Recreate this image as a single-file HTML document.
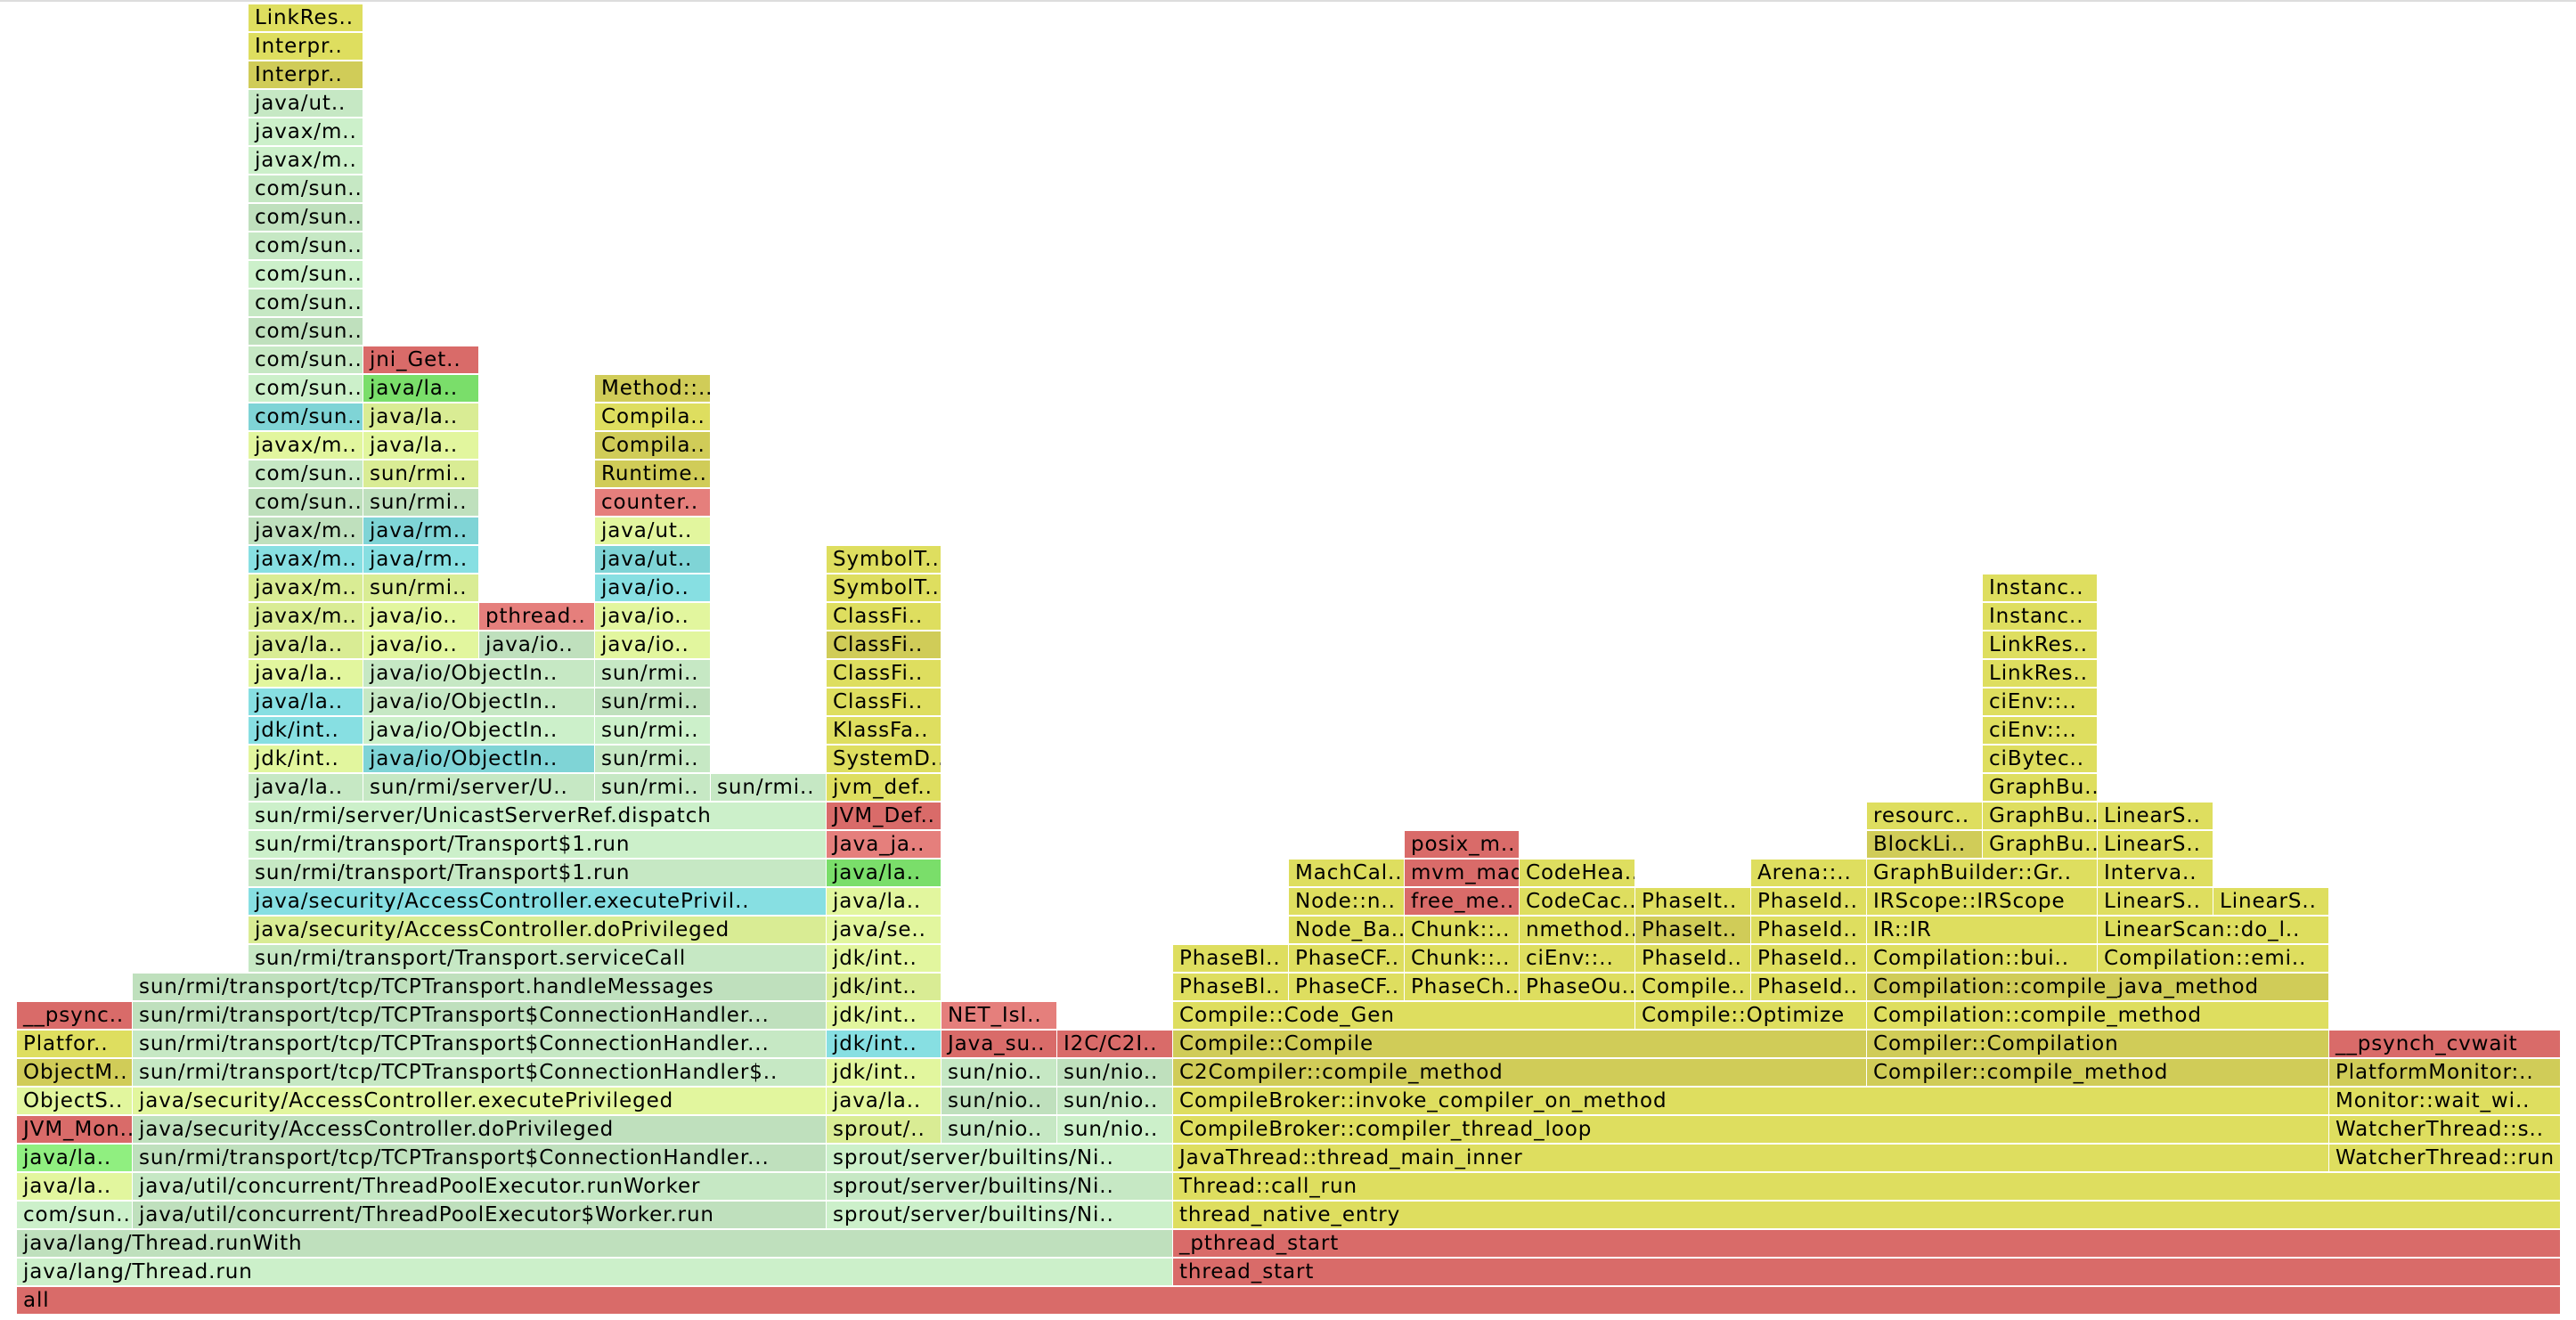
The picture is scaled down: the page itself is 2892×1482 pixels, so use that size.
<!DOCTYPE html>
<html><head><meta charset="utf-8">
<style>
html,body{margin:0;padding:0;background:#fff;}
#fg{position:relative;width:2892px;height:1482px;overflow:hidden;background:#fff;border-top:2px solid #ddd;box-sizing:border-box;font-family:"DejaVu Sans","Liberation Sans",sans-serif;}
.f{position:absolute;height:30px;line-height:31px;font-size:23px;letter-spacing:0.9px;color:#000;padding-left:7px;box-sizing:border-box;white-space:nowrap;overflow:hidden;border-right:1px solid #fff;}
</style></head>
<body>
<div id="fg"></div>
<script>
// frame data: row (0 = bottom), start column, width (columns), label, colour class
const frameRows = [0,1,1,2,2,3,3,3,3,4,4,4,4,5,5,5,5,5,6,6,6,6,6,6,6,7,7,7,7,7,7,7,8,8,8,8,8,8,8,8,9,9,9,9,9,9,9,9,10,10,10,10,10,10,10,11,11,11,11,11,11,11,11,11,12,12,12,12,12,12,12,12,12,12,13,13,13,13,13,13,13,13,13,14,14,14,14,14,14,14,14,14,14,15,15,15,15,15,15,15,15,16,16,16,16,16,16,17,17,17,17,17,18,18,18,18,18,18,19,19,19,19,19,20,20,20,20,20,21,21,21,21,21,22,22,22,22,22,23,23,23,23,23,23,24,24,24,24,24,24,25,25,25,25,25,26,26,26,26,27,27,27,28,28,28,29,29,29,30,30,30,31,31,31,32,32,32,33,33,34,35,36,37,38,39,40,41,42,43,44,45];
const frameStarts = [0,0,10,0,10,0,1,7,10,0,1,7,10,0,1,7,10,20,0,1,7,8,9,10,20,0,1,7,8,9,10,20,0,1,7,8,9,10,16,20,0,1,7,8,9,10,16,20,0,1,7,8,10,14,16,1,7,10,11,12,13,14,15,16,2,7,10,11,12,13,14,15,16,18,2,7,11,12,13,14,15,16,18,2,7,11,12,13,14,15,16,18,19,2,7,11,12,13,15,16,18,2,7,12,16,17,18,2,7,16,17,18,2,3,5,6,7,17,2,3,5,7,17,2,3,5,7,17,2,3,5,7,17,2,3,5,7,17,2,3,4,5,7,17,2,3,4,5,7,17,2,3,5,7,17,2,3,5,7,2,3,5,2,3,5,2,3,5,2,3,5,2,3,5,2,3,5,2,3,2,2,2,2,2,2,2,2,2,2,2,2];
const frameWidths = [22,10,12,10,12,1,6,3,12,1,6,3,12,1,6,3,10,2,1,6,1,1,1,10,2,1,6,1,1,1,10,2,1,6,1,1,1,6,4,2,1,6,1,1,1,6,4,2,1,6,1,1,4,2,4,6,1,1,1,1,1,1,1,4,5,1,1,1,1,1,1,1,2,2,5,1,1,1,1,1,1,2,2,5,1,1,1,1,1,1,2,1,1,5,1,1,1,1,1,2,1,5,1,1,1,1,1,5,1,1,1,1,1,2,1,1,1,1,1,2,1,1,1,1,2,1,1,1,1,2,1,1,1,1,2,1,1,1,1,1,1,1,1,1,1,1,1,1,1,1,1,1,1,1,1,1,1,1,1,1,1,1,1,1,1,1,1,1,1,1,1,1,1,1,1,1,1,1,1,1,1,1,1,1,1,1,1,1,1,1,1,1,1,1,1,1];
const frameLabels = ["all","java/lang/Thread.run","thread_start","java/lang/Thread.runWith","_pthread_start","com/sun..","java/util/concurrent/ThreadPoolExecutor$Worker.run","sprout/server/builtins/Ni..","thread_native_entry","java/la..","java/util/concurrent/ThreadPoolExecutor.runWorker","sprout/server/builtins/Ni..","Thread::call_run","java/la..","sun/rmi/transport/tcp/TCPTransport$ConnectionHandler...","sprout/server/builtins/Ni..","JavaThread::thread_main_inner","WatcherThread::run","JVM_Mon..","java/security/AccessController.doPrivileged","sprout/..","sun/nio..","sun/nio..","CompileBroker::compiler_thread_loop","WatcherThread::s..","ObjectS..","java/security/AccessController.executePrivileged","java/la..","sun/nio..","sun/nio..","CompileBroker::invoke_compiler_on_method","Monitor::wait_wi..","ObjectM..","sun/rmi/transport/tcp/TCPTransport$ConnectionHandler$..","jdk/int..","sun/nio..","sun/nio..","C2Compiler::compile_method","Compiler::compile_method","PlatformMonitor:..","Platfor..","sun/rmi/transport/tcp/TCPTransport$ConnectionHandler...","jdk/int..","Java_su..","I2C/C2I..","Compile::Compile","Compiler::Compilation","__psynch_cvwait","__psync..","sun/rmi/transport/tcp/TCPTransport$ConnectionHandler...","jdk/int..","NET_IsI..","Compile::Code_Gen","Compile::Optimize","Compilation::compile_method","sun/rmi/transport/tcp/TCPTransport.handleMessages","jdk/int..","PhaseBl..","PhaseCF..","PhaseCh..","PhaseOu..","Compile..","PhaseId..","Compilation::compile_java_method","sun/rmi/transport/Transport.serviceCall","jdk/int..","PhaseBl..","PhaseCF..","Chunk::..","ciEnv::..","PhaseId..","PhaseId..","Compilation::bui..","Compilation::emi..","java/security/AccessController.doPrivileged","java/se..","Node_Ba..","Chunk::..","nmethod..","PhaseIt..","PhaseId..","IR::IR","LinearScan::do_l..","java/security/AccessController.executePrivil..","java/la..","Node::n..","free_me..","CodeCac..","PhaseIt..","PhaseId..","IRScope::IRScope","LinearS..","LinearS..","sun/rmi/transport/Transport$1.run","java/la..","MachCal..","mvm_mad..","CodeHea..","Arena::..","GraphBuilder::Gr..","Interva..","sun/rmi/transport/Transport$1.run","Java_ja..","posix_m..","BlockLi..","GraphBu..","LinearS..","sun/rmi/server/UnicastServerRef.dispatch","JVM_Def..","resourc..","GraphBu..","LinearS..","java/la..","sun/rmi/server/U..","sun/rmi..","sun/rmi..","jvm_def..","GraphBu..","jdk/int..","java/io/ObjectIn..","sun/rmi..","SystemD..","ciBytec..","jdk/int..","java/io/ObjectIn..","sun/rmi..","KlassFa..","ciEnv::..","java/la..","java/io/ObjectIn..","sun/rmi..","ClassFi..","ciEnv::..","java/la..","java/io/ObjectIn..","sun/rmi..","ClassFi..","LinkRes..","java/la..","java/io..","java/io..","java/io..","ClassFi..","LinkRes..","javax/m..","java/io..","pthread..","java/io..","ClassFi..","Instanc..","javax/m..","sun/rmi..","java/io..","SymbolT..","Instanc..","javax/m..","java/rm..","java/ut..","SymbolT..","javax/m..","java/rm..","java/ut..","com/sun..","sun/rmi..","counter..","com/sun..","sun/rmi..","Runtime..","javax/m..","java/la..","Compila..","com/sun..","java/la..","Compila..","com/sun..","java/la..","Method::..","com/sun..","jni_Get..","com/sun..","com/sun..","com/sun..","com/sun..","com/sun..","com/sun..","javax/m..","javax/m..","java/ut..","Interpr..","Interpr..","LinkRes.."];
const frameColors = ["r","g3","r","g2","r","g3","g2","g3","y","ly","g1","g1","y","bg","g2","g3","y","y","r","g2","ly2","g1","g3","y","y","ly","ly","ly","g2","g1","y","y","yd","g1","ly","g1","g2","yd","yd","yd","y","g1","cy","r","r","yd","yd","r","r","g2","ly","r2","y","y","y","g2","ly2","y","y","y","y","y","y","yd","g1","ly","y","y","y","y","y","y","y","y","ly2","ly","y","y","y","yd","y","y","y","cy","ly","y","r","y","y","y","y","y","y","g1","bg2","y","r","y","y","y","y","g3","r2","r","yd","y","y","g3","r","y","y","y","g1","g1","g1","g1","y","y","ly","cy2","g1","y","y","cy","g3","g3","y","y","cy","g1","g2","y","y","ly","g1","g1","y","y","ly2","ly","g2","ly","yd","y","ly2","ly","r2","ly","y","y","ly2","ly2","cy","y","y","cy","cy","cy2","y","g2","cy2","ly","g2","g2","r2","g1","ly2","yd","ly","ly","yd","cy2","ly2","y","g3","bg2","yd","g1","r","g2","g1","g3","g1","g2","g1","g3","g3","g1","yd","y","y"];

const palette = {r:"#d96b69",r2:"#e57f7c",g1:"#c6e8c4",g2:"#bfe0bd",g3:"#ccf0ca",ly:"#e2f69e",ly2:"#d9ec94",y:"#dede5f",yd:"#d0cc58",cy:"#87dfe2",cy2:"#7fd4d6",bg:"#90ef80",bg2:"#7ade6a"};
const colW = 129.8, x0 = 19, rowPitch = 32, baseY = 1443;
function xScale(c){ return Math.round(x0 + c * colW); }
function yScale(r){ return baseY - r * rowPitch; }

const fg = document.getElementById('fg');
for (let i = 0; i < frameLabels.length; i++) {
  const el = document.createElement('div');
  el.className = 'f';
  
  
  el.style.left = xScale(frameStarts[i]) + 'px';
  el.style.width = (xScale(frameStarts[i] + frameWidths[i]) - xScale(frameStarts[i])) + 'px';
  el.style.top = yScale(frameRows[i]) + 'px';
  el.style.background = palette[frameColors[i]];
  el.textContent = frameLabels[i];
  fg.appendChild(el);
}
</script>
</body></html>
